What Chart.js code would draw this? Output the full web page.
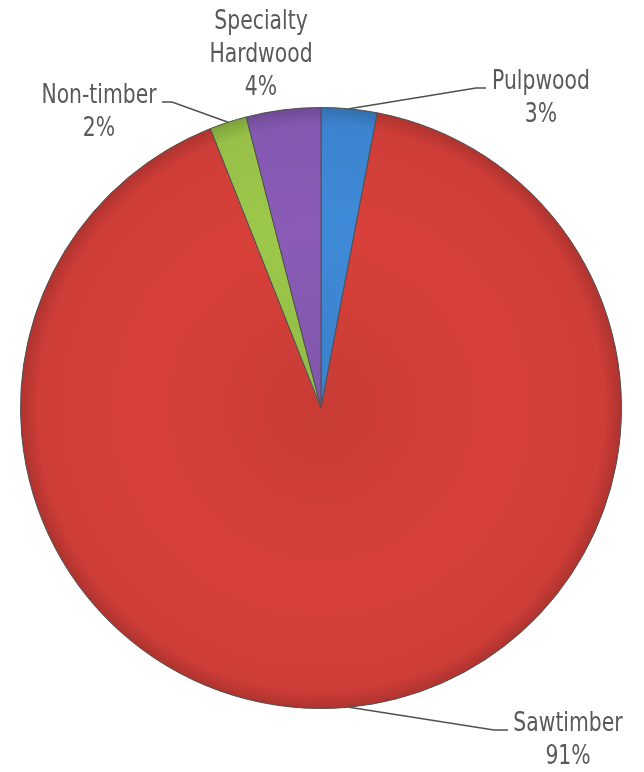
<!DOCTYPE html>
<html>
<head>
<meta charset="utf-8">
<script src="https://cdn.jsdelivr.net/npm/chart.js@4"></script>
<style>
  html, body { margin: 0; padding: 0; background: #fff; }
  #wrap { width: 644px; height: 772px; position: relative; }
</style>
</head>
<body>
<div id="wrap"><canvas id="pie"></canvas></div>
<script>
// data
const categories = ['Pulpwood', 'Sawtimber', 'Non-timber', 'Specialty Hardwood'];
const shares = [3, 91, 2, 4];
const sliceColors = ['#3f8ad8', '#d8403a', '#9cc84a', '#8a5cb8'];

// label text lines and where each label sits (text anchor + elbow of the leader)
const labelLines = [['Pulpwood', '3%'], ['Sawtimber', '91%'], ['Non-timber', '2%'], ['Specialty', 'Hardwood', '4%']];
const labelSpots = [
    { x: 541, y: 82, elbow: [476, 88], end: [486, 88] },
    { x: 568, y: 724, elbow: [494, 730], end: [508, 730] },
    { x: 99, y: 96, elbow: [172, 102], end: [162, 102] },
    { x: 261, y: 22, elbow: null, end: null }
];

const FONT = '"Liberation Sans Narrow", "Arial Narrow", "DejaVu Sans Condensed", sans-serif';

function shade(hex, f) {
    const n = parseInt(hex.slice(1), 16);
    let r = (n >> 16) & 255, g = (n >> 8) & 255, b = n & 255;
    const m = c => Math.max(0, Math.min(255, Math.round(c * f)));
    return `rgb(${m(r)},${m(g)},${m(b)})`;
}

const labelPlugin = {
    id: 'sliceLabels',
    afterDraw(chart) {
        const ctx = chart.ctx;
        const arcs = chart.getDatasetMeta(0).data;
        ctx.save();
        ctx.font = `26px ${FONT}`;
        ctx.fillStyle = '#595959';
        ctx.textAlign = 'center';
        ctx.textBaseline = 'middle';
        arcs.forEach((arc, i) => {
            const spot = labelSpots[i];
            labelLines[i].forEach((t, k) => {
                ctx.save();
                ctx.translate(spot.x, spot.y + k * 33);
                ctx.scale(0.87, 1);
                ctx.fillText(t, 0, 0);
                ctx.restore();
            });
            if (!spot.elbow) return;
            const p = arc.getProps(['x', 'y', 'startAngle', 'endAngle', 'outerRadius'], true);
            const mid = (p.startAngle + p.endAngle) / 2;
            const ax = p.x + Math.cos(mid) * p.outerRadius;
            const ay = p.y + Math.sin(mid) * p.outerRadius;
            ctx.beginPath();
            ctx.strokeStyle = '#505050';
            ctx.lineWidth = 1.5;
            ctx.moveTo(ax, ay);
            ctx.lineTo(spot.elbow[0], spot.elbow[1]);
            ctx.lineTo(spot.end[0], spot.end[1]);
            ctx.stroke();
        });
        ctx.restore();
    }
};

new Chart(document.getElementById('pie'), {
    type: 'pie',
    data: {
        labels: categories,
        datasets: [{
            data: shares,
            backgroundColor: (c) => {
                const chart = c.chart;
                const area = chart.chartArea;
                if (!area) return sliceColors[c.dataIndex];
                const cx = (area.left + area.right) / 2, cy = (area.top + area.bottom) / 2;
                const r = Math.min(area.right - area.left, area.bottom - area.top) / 2;
                const base = sliceColors[c.dataIndex];
                const g = chart.ctx.createRadialGradient(cx, cy, 0, cx, cy, r);
                g.addColorStop(0, shade(base, 0.93));
                g.addColorStop(0.6, base);
                g.addColorStop(0.94, shade(base, 0.96));
                g.addColorStop(1, shade(base, 0.8));
                return g;
            },
            borderColor: '#505050',
            borderWidth: 1,
            offset: 0
        }]
    },
    options: {
        responsive: true,
        maintainAspectRatio: false,
        animation: false,
        layout: { padding: { left: 20, right: 22, top: 107, bottom: 63 } },
        plugins: {
            legend: { display: false },
            tooltip: { enabled: false }
        }
    },
    plugins: [labelPlugin]
});
</script>
</body>
</html>
